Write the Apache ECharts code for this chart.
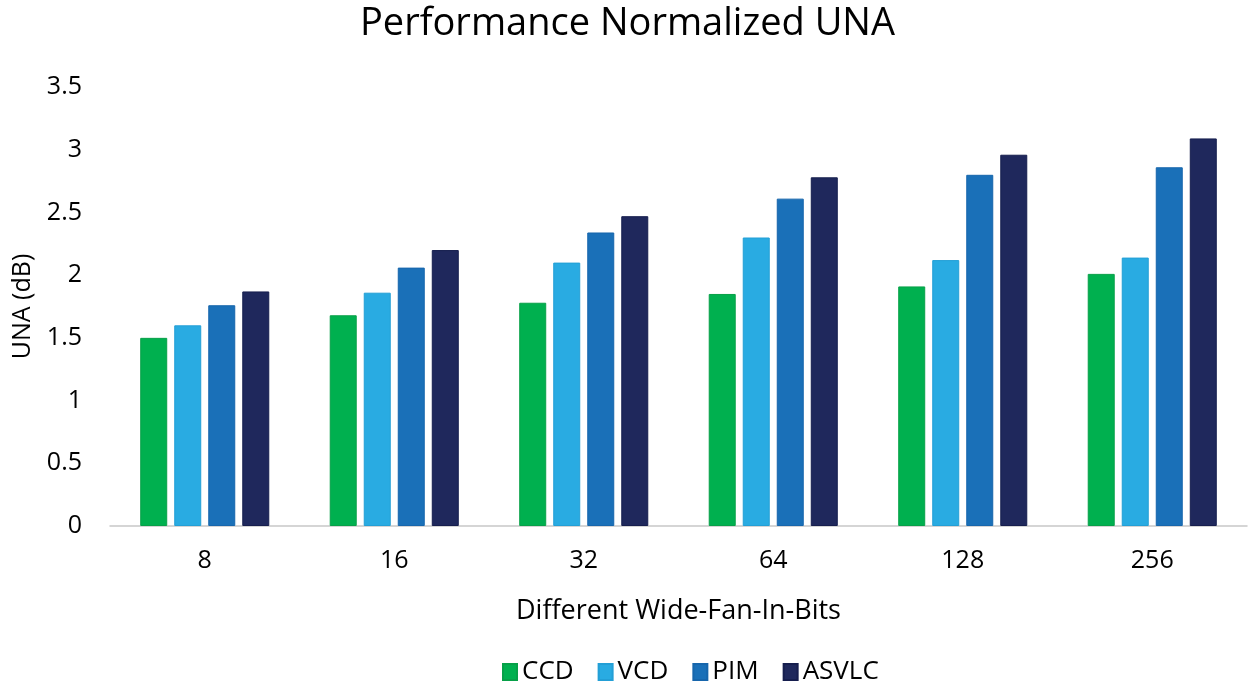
<!DOCTYPE html>
<html>
<head>
<meta charset="utf-8">
<script src="https://cdn.jsdelivr.net/npm/echarts@6/dist/echarts.min.js"></script>
<style>html,body{margin:0;padding:0;background:#fff}#c{width:1255px;height:688px}</style>
</head>
<body>
<div id="c"></div>
<script>
var categories = ['8', '16', '32', '64', '128', '256'];
var seriesNames = ['CCD', 'VCD', 'PIM', 'ASVLC'];
var ccd = [1.50, 1.68, 1.78, 1.85, 1.91, 2.01];
var vcd = [1.60, 1.86, 2.10, 2.30, 2.12, 2.14];
var pim = [1.76, 2.06, 2.34, 2.61, 2.80, 2.86];
var asvlc = [1.87, 2.20, 2.47, 2.78, 2.96, 3.09];
var yTicks = [0, 0.5, 1, 1.5, 2, 2.5, 3, 3.5];
var colors = ['#00B04F', '#29ABE2', '#1A70B8', '#1F285C'];
var borders = ['#07a048', '#239fd6', '#1766ac', '#161e4e'];

var font = '"Open Sans", Lato, sans-serif';
var chart = echarts.init(document.getElementById('c'));
var data = [ccd, vcd, pim, asvlc];
chart.setOption({
  animation: false,
  title: {
    text: 'Performance Normalized UNA',
    left: 'center',
    top: 0,
    textStyle: {fontFamily: font, fontSize: 38, fontWeight: 'normal', color: '#000'}
  },
  legend: {
    bottom: -2,
    left: 497,
    itemWidth: 14,
    itemHeight: 16,
    itemGap: 24,
    icon: 'rect',
    textStyle: {fontFamily: font, fontSize: 26, color: '#000'},
    data: seriesNames
  },
  grid: {left: 110, right: 8, top: 87, bottom: 162, outerBoundsMode: 'none', containLabel: false},
  xAxis: {
    type: 'category',
    data: categories,
    name: 'Different Wide-Fan-In-Bits',
    nameLocation: 'middle',
    nameGap: 72,
    nameTextStyle: {fontFamily: font, fontSize: 27, color: '#000'},
    axisLine: {lineStyle: {color: '#c8c8c8', width: 1.5}},
    axisTick: {show: false},
    axisLabel: {fontFamily: font, fontSize: 25, color: '#000', margin: 22}
  },
  yAxis: {
    type: 'value',
    min: 0,
    max: 3.5,
    interval: 0.5,
    name: 'UNA (dB)',
    nameLocation: 'middle',
    nameGap: 75,
    nameTextStyle: {fontFamily: font, fontSize: 25, color: '#000'},
    axisLine: {show: false},
    axisTick: {show: false},
    splitLine: {show: false},
    axisLabel: {fontFamily: font, fontSize: 25, color: '#000', margin: 28,
      formatter: function (v) { return yTicks.indexOf(v) >= 0 ? String(v) : ''; }}
  },
  series: seriesNames.map(function (n, i) {
    return {
      name: n,
      type: 'bar',
      data: data[i],
      barWidth: 27,
      barGap: '26%',
      itemStyle: {color: colors[i], borderColor: borders[i], borderWidth: 1}
    };
  })
});
</script>
</body>
</html>
